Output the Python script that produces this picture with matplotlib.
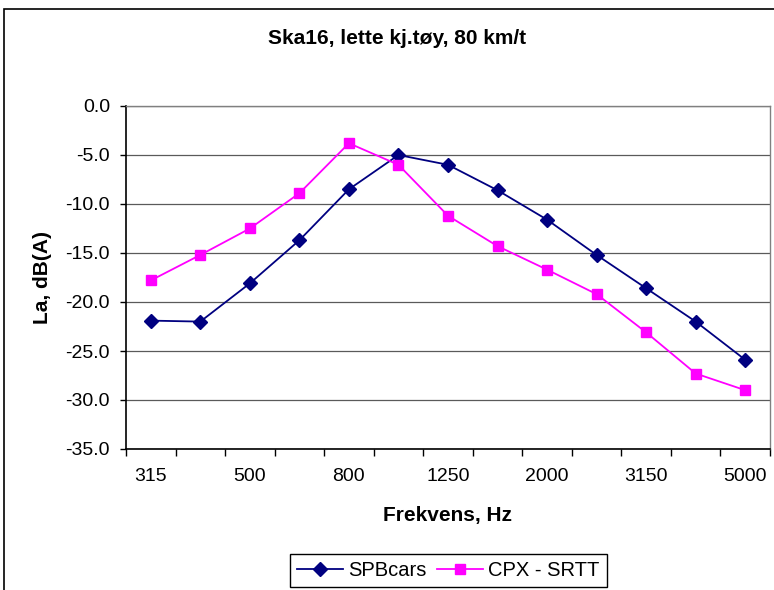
import matplotlib
matplotlib.use("Agg")
import matplotlib.pyplot as plt
from matplotlib.patches import Rectangle

plt.rcParams['font.family'] = ['Liberation Sans', 'DejaVu Sans']

frequencies = ["315", "400", "500", "630", "800", "1000", "1250", "1600",
               "2000", "2500", "3150", "4000", "5000"]
spb_cars = [-21.9, -22.0, -18.1, -13.7, -8.5, -5.0, -6.0, -8.6,
            -11.6, -15.2, -18.6, -22.0, -25.9]
cpx_srtt = [-17.8, -15.2, -12.5, -8.9, -3.8, -6.0, -11.2, -14.3,
            -16.7, -19.2, -23.1, -27.3, -29.0]
y_ticks = [0, -5, -10, -15, -20, -25, -30, -35]

W, H = 774, 590
fig = plt.figure(figsize=(W / 100, H / 100), dpi=100)

# chart-area border (cropped at right/bottom)
fig.patches.append(Rectangle((4 / W, -0.1), 1.2, 1 - 9 / H + 0.1,
                             transform=fig.transFigure, fill=False,
                             edgecolor='black', linewidth=1.2))

left, right, top, bottom = 126, 770, 106, 449
ax = fig.add_axes([left / W, 1 - bottom / H, (right - left) / W, (bottom - top) / H])

x = list(range(len(frequencies)))
ax.plot(x, spb_cars, color='#000080', marker='D', markersize=7,
        linewidth=1.3, label='SPBcars', zorder=3)
ax.plot(x, cpx_srtt, color='#FF00FF', marker='s', markersize=6.5,
        linewidth=1.3, label='CPX - SRTT', zorder=3)

ax.set_xlim(-0.5, len(frequencies) - 0.5)
ax.set_ylim(-35, 0)

ax.set_yticks(y_ticks)
ax.set_yticklabels([f"{v:.1f}" for v in y_ticks], fontsize=14)
ax.yaxis.grid(True, color='#5a5a5a', linewidth=0.9)
ax.set_axisbelow(True)

# major ticks at category boundaries, labels at every other category
ax.set_xticks([i - 0.5 for i in range(len(frequencies) + 1)])
ax.set_xticklabels([])
ax.set_xticks(x[::2], minor=True)
ax.set_xticklabels(frequencies[::2], minor=True, fontsize=14)
ax.tick_params(axis='x', which='major', direction='out', length=5, width=1)
ax.tick_params(axis='x', which='minor', length=0, pad=14)
ax.tick_params(axis='y', direction='out', length=4, width=1, pad=7.5)

for s in ['left', 'bottom']:
    ax.spines[s].set_color('black')
    ax.spines[s].set_linewidth(1.2)
for s in ['top', 'right']:
    ax.spines[s].set_color('#808080')
    ax.spines[s].set_linewidth(1.0)

fig.text(397.5 / W, 1 - 38 / H, "Ska16, lette kj.tøy, 80 km/t",
         ha='center', va='center', fontsize=15, fontweight='bold')
fig.text(448 / W, 1 - 515 / H, "Frekvens, Hz", ha='center', va='center',
         fontsize=15, fontweight='bold')
fig.text(43 / W, 1 - 277 / H, "La, dB(A)", ha='center', va='center',
         rotation=90, fontsize=15, fontweight='bold')

leg = fig.legend(loc='upper left', bbox_to_anchor=(290 / W, 1 - 554 / H),
                 ncol=2, fontsize=14.5, frameon=True, fancybox=False,
                 edgecolor='black', framealpha=1, borderaxespad=0,
                 borderpad=0.35, handlelength=2.3, handletextpad=0.25,
                 columnspacing=0.5)
leg.get_frame().set_linewidth(1.0)

fig.savefig("out.png", dpi=100)
